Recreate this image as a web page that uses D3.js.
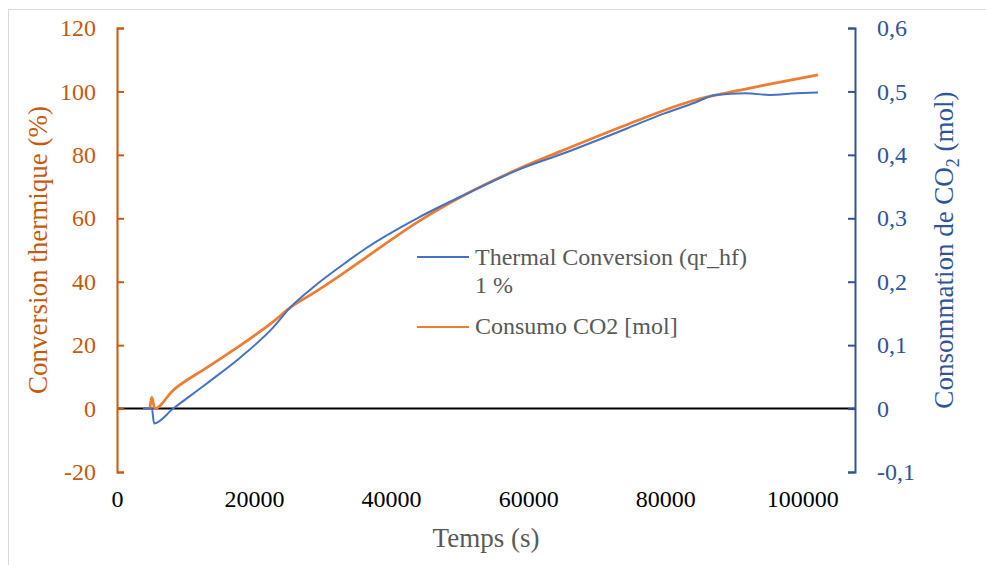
<!DOCTYPE html>
<html lang="fr">
<head>
<meta charset="utf-8">
<title>Conversion thermique et consommation de CO2</title>
<script src="https://cdn.jsdelivr.net/npm/d3@7"></script>
<style>
  body { margin: 0; background: #fff; }
  text { font-family: "Liberation Serif", "Times New Roman", serif; }
</style>
</head>
<body>
<script>
// time (s) and thermal conversion (%) -> left axis
var thermalTime = [3800, 5100, 5400, 8200, 13100, 18000, 22800, 25300, 28600, 32600, 36500, 43800, 51100, 58800, 64700, 74500, 79400, 84400, 87300, 91800, 95200, 99100, 102300];
var thermalConv = [0, 0, -4.7, 0, 7.9, 16.1, 25.6, 31.9, 38.2, 44.8, 50.8, 60, 67.8, 75.5, 80.1, 88.4, 92.7, 96.5, 98.9, 99.4, 98.9, 99.4, 99.7];

// time (s) and CO2 consumption (mol) -> right axis
var co2Time = [4800, 5100, 5500, 8200, 13100, 18000, 22800, 25300, 28600, 32600, 36500, 43800, 51100, 58800, 64700, 74500, 84400, 89300, 94300, 102300];
var co2Mol = [0, 0.0175, 0, 0.029, 0.0645, 0.0995, 0.137, 0.1595, 0.1815, 0.21, 0.2395, 0.2935, 0.339, 0.379, 0.4055, 0.448, 0.4865, 0.4985, 0.5095, 0.526];

var xTicks = [0, 20000, 40000, 60000, 80000, 100000];
var leftTicks = [-20, 0, 20, 40, 60, 80, 100, 120];
var rightTicks = [-0.1, 0, 0.1, 0.2, 0.3, 0.4, 0.5, 0.6];

var seriesNames = ["Thermal Conversion (qr_hf)", "1 %", "Consumo CO2 [mol]"];

var w = 986, h = 565;
var svg = d3.select("body").append("svg").attr("width", w).attr("height", h);

// chart frame
svg.append("rect")
  .attr("x", 8.5).attr("y", 9.5)
  .attr("width", 1000).attr("height", 600)
  .attr("fill", "none").attr("stroke", "#d9d9d9");

var pLeft = 117, pRight = 855, pTop = 28, pBottom = 472;

var x = d3.scaleLinear().domain([0, 107700]).range([pLeft, pRight]);
var yL = d3.scaleLinear().domain([-20, 120]).range([pBottom, pTop]);
var yR = d3.scaleLinear().domain([-0.1, 0.6]).range([pBottom, pTop]);

var orange = "#ED7D31", orangeDark = "#C55A11";
var blue = "#4472C4", blueDark = "#2F5597";

// zero line
svg.append("line")
  .attr("x1", pLeft).attr("x2", pRight)
  .attr("y1", yL(0)).attr("y2", yL(0))
  .attr("stroke", "#000").attr("stroke-width", 2);

// left axis (plain hyphen for negatives, like the original)
var leftFmt = function(d) { return String(d); };
var gL = svg.append("g")
  .attr("transform", "translate(" + pLeft + ",0)")
  .call(d3.axisLeft(yL).tickValues(leftTicks).tickSize(-7).tickPadding(21).tickFormat(leftFmt));
gL.selectAll("path, line").attr("stroke", orangeDark).attr("stroke-width", 2);
gL.selectAll("text").attr("fill", orangeDark).style("font-size", "24px")
  .style("font-family", "Liberation Serif");

// right axis, decimal comma
var commaFmt = function(d) { return String(Math.round(d * 10) / 10).replace(".", ","); };
var gR = svg.append("g")
  .attr("transform", "translate(" + pRight + ",0)")
  .call(d3.axisRight(yR).tickValues(rightTicks).tickSize(-7).tickPadding(22).tickFormat(commaFmt));
gR.selectAll("path, line").attr("stroke", blueDark).attr("stroke-width", 2);
gR.selectAll("text").attr("fill", blueDark).style("font-size", "24px")
  .style("font-family", "Liberation Serif");

// x labels (no axis line)
var gX = svg.append("g")
  .attr("transform", "translate(0,486)")
  .call(d3.axisBottom(x).tickValues(xTicks).tickSize(0).tickPadding(4).tickFormat(d3.format("d")));
gX.select(".domain").remove();
gX.selectAll("text").attr("fill", "#000").style("font-size", "24px")
  .style("font-family", "Liberation Serif");

// axis titles
svg.append("text")
  .attr("transform", "translate(47," + ((pTop + pBottom) / 2) + ") rotate(-90)")
  .attr("text-anchor", "middle")
  .attr("fill", orangeDark).style("font-size", "27px")
  .text("Conversion thermique (%)");

var rt = svg.append("text")
  .attr("transform", "translate(953," + ((pTop + pBottom) / 2) + ") rotate(-90)")
  .attr("text-anchor", "middle")
  .attr("fill", blueDark).style("font-size", "27px");
rt.append("tspan").text("Consommation de CO");
rt.append("tspan").attr("dy", 6).style("font-size", "18px").text("2");
rt.append("tspan").attr("dy", -6).text(" (mol)");

svg.append("text")
  .attr("x", (pLeft + pRight) / 2).attr("y", 547)
  .attr("text-anchor", "middle")
  .attr("fill", "#595959").style("font-size", "27px")
  .text("Temps (s)");

// lines
var thermalData = thermalTime.map(function(t, i) { return [t, thermalConv[i]]; });
var co2Data = co2Time.map(function(t, i) { return [t, co2Mol[i]]; });

var lineL = d3.line().x(function(d) { return x(d[0]); }).y(function(d) { return yL(d[1]); }).curve(d3.curveMonotoneX);
var lineR = d3.line().x(function(d) { return x(d[0]); }).y(function(d) { return yR(d[1]); }).curve(d3.curveMonotoneX);

svg.append("path").datum(co2Data)
  .attr("d", lineR).attr("fill", "none")
  .attr("stroke", orange).attr("stroke-width", 2.75).attr("stroke-linejoin", "round");

svg.append("path").datum(thermalData)
  .attr("d", lineL).attr("fill", "none")
  .attr("stroke", blue).attr("stroke-width", 2).attr("stroke-linejoin", "round");

// legend
var lg = svg.append("g").attr("transform", "translate(417,0)");
lg.append("line").attr("x1", 0).attr("x2", 52).attr("y1", 257).attr("y2", 257)
  .attr("stroke", blue).attr("stroke-width", 2);
lg.append("text").attr("x", 58).attr("y", 265).attr("fill", "#595959")
  .style("font-size", "24px").text(seriesNames[0]);
lg.append("text").attr("x", 58).attr("y", 293).attr("fill", "#595959")
  .style("font-size", "24px").text(seriesNames[1]);
lg.append("line").attr("x1", 0).attr("x2", 52).attr("y1", 327).attr("y2", 327)
  .attr("stroke", orange).attr("stroke-width", 2);
lg.append("text").attr("x", 58).attr("y", 334).attr("fill", "#595959")
  .style("font-size", "24px").text(seriesNames[2]);
</script>
</body>
</html>
